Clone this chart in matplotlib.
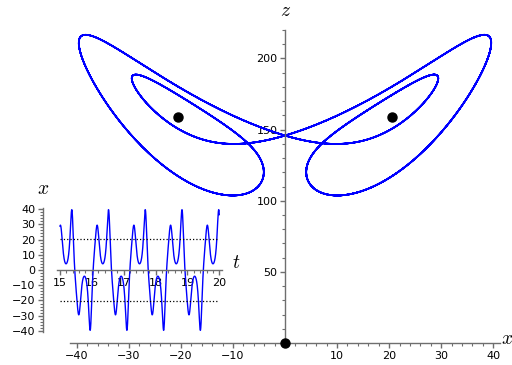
import numpy as np
import matplotlib
matplotlib.use("Agg")
import matplotlib.pyplot as plt
from matplotlib.ticker import MultipleLocator, FixedLocator

plt.rcParams["mathtext.fontset"] = "cm"

# Lorenz system parameters
sigma = 10.0
rho = 160.0
beta = 8.0 / 3.0
state0 = [1.0, 1.0, 1.0]
t_first, t_last = 15.0, 20.0
peak_offset = 0.37          # time of the first large x-peak after t_first
dt = 0.001

# tick labels
main_xticks = [-40, -30, -20, -10, 10, 20, 30, 40]
main_zticks = [50, 100, 150, 200]
inset_xticks = [-40, -30, -20, -10, 0, 10, 20, 30, 40]
inset_tticks = [15, 16, 17, 18, 19, 20]


def lorenz(s):
    x, y, z = s
    return np.array([sigma * (y - x), x * (rho - z) - y, x * y - beta * z])


# integrate with classical RK4
n_steps = int(60.0 / dt)
traj = np.empty((n_steps + 1, 3))
traj[0] = state0
s = np.array(state0, dtype=float)
for i in range(n_steps):
    k1 = lorenz(s)
    k2 = lorenz(s + 0.5 * dt * k1)
    k3 = lorenz(s + 0.5 * dt * k2)
    k4 = lorenz(s + dt * k3)
    s = s + dt / 6.0 * (k1 + 2 * k2 + 2 * k3 + k4)
    traj[i + 1] = s

# take a window on the settled cycle, starting just before a large right peak
settle = int(35.0 / dt)
xs = traj[:, 0]
peaks = [i for i in range(settle, n_steps - 1)
         if xs[i] > 35 and xs[i] >= xs[i - 1] and xs[i] >= xs[i + 1]]
start = peaks[0] - int(round(peak_offset / dt))
n_win = int(round((t_last - t_first) / dt))
seg = traj[start:start + n_win + 1]
t = t_first + dt * np.arange(len(seg))

x_eq = np.sqrt(beta * (rho - 1.0))
z_eq = rho - 1.0

W, H = 512, 365
fig = plt.figure(figsize=(W / 100, H / 100), dpi=100)

axis_color = "#6e6e6e"

# ---- main x-z projection ----
ax = fig.add_axes([70 / W, (H - 343) / H, (500 - 70) / W, (343 - 30) / H])
ax.plot(seg[:, 0], seg[:, 2], color="#0000ff", lw=1.2)
ax.plot([-x_eq, x_eq, 0], [z_eq, z_eq, 0], "o", color="black", ms=6.5,
        clip_on=False, zorder=5)
ax.set_xlim(-41.3, 41.3)
ax.set_ylim(0, 220)
ax.spines["left"].set_position(("data", 0))
ax.spines["bottom"].set_position(("data", 0))
ax.spines["top"].set_visible(False)
ax.spines["right"].set_visible(False)
for sp in ("left", "bottom"):
    ax.spines[sp].set_color(axis_color)
    ax.spines[sp].set_linewidth(1.0)
ax.xaxis.set_major_locator(FixedLocator(main_xticks))
ax.xaxis.set_minor_locator(MultipleLocator(2))
ax.yaxis.set_major_locator(FixedLocator(main_zticks))
ax.yaxis.set_minor_locator(MultipleLocator(10))
ax.tick_params(which="both", direction="out", color=axis_color, labelsize=8,
               labelcolor="black", pad=2)
ax.tick_params(which="major", length=3.5, width=1.0)
ax.tick_params(which="minor", length=2.0, width=0.8)
ax.patch.set_alpha(0)

# ---- inset: x(t) ----
ax2 = fig.add_axes([43 / W, (H - 332) / H, (222 - 43) / W, (332 - 208) / H])
ax2.plot(t, seg[:, 0], color="#0000ff", lw=1.0)
ax2.plot([t_first, t_last], [x_eq, x_eq], ":", color="black", lw=0.9)
ax2.plot([t_first, t_last], [-x_eq, -x_eq], ":", color="black", lw=0.9)
ax2.set_xlim(14.467, 20.085)
ax2.set_ylim(-40.7, 40.7)
ax2.spines["top"].set_visible(False)
ax2.spines["right"].set_visible(False)
ax2.spines["bottom"].set_position(("data", 0))
ax2.spines["bottom"].set_bounds(14.9, 20.085)
for sp in ("left", "bottom"):
    ax2.spines[sp].set_color(axis_color)
    ax2.spines[sp].set_linewidth(1.0)
ax2.xaxis.set_major_locator(FixedLocator(inset_tticks))
ax2.xaxis.set_minor_locator(FixedLocator(np.arange(15.0, 20.01, 0.2)))
ax2.yaxis.set_major_locator(FixedLocator(inset_xticks))
ax2.yaxis.set_minor_locator(MultipleLocator(2))
ax2.tick_params(which="both", direction="out", color=axis_color, labelsize=8,
                labelcolor="black", pad=2)
ax2.tick_params(which="major", length=3.5, width=1.0)
ax2.tick_params(which="minor", length=2.0, width=0.8)
ax2.patch.set_alpha(0)

# axis names
fig.text(286 / W, 1 - 11 / H, "$z$", fontsize=14, ha="center", va="center")
fig.text(507 / W, 1 - 339 / H, "$x$", fontsize=14, ha="center", va="center")
fig.text(43 / W, 1 - 189 / H, "$x$", fontsize=14, ha="center", va="center")
fig.text(236 / W, 1 - 263 / H, "$t$", fontsize=14, ha="center", va="center")

fig.savefig("out.png", dpi=100)
